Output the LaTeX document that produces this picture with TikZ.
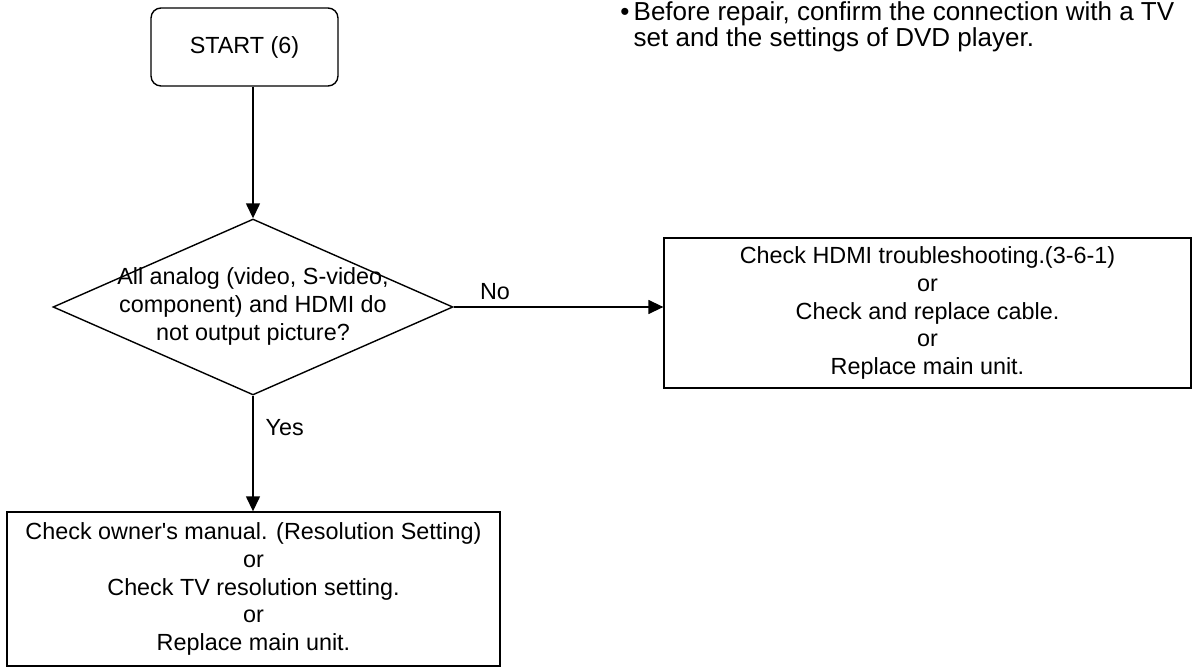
\documentclass[tikz,border=0pt]{standalone}
\usepackage{fontspec}
\setmainfont{Liberation Sans}[Ligatures=TeXOff]
\usetikzlibrary{shapes.geometric,arrows.meta}

\begin{document}
\begin{tikzpicture}[x=0.02cm, y=0.02cm, line width=0.8pt,
  >={Triangle[length=0.3cm,width=0.28cm]},
  every node/.style={font=\fontsize{13.3}{15.7}\selectfont},
  startbox/.style={rectangle, rounded corners=0.2cm, draw, minimum width=3.74cm, minimum height=1.56cm},
  decbox/.style={diamond, draw, aspect=2.27, inner sep=0pt, minimum width=8cm, minimum height=3.52cm},
  actbox/.style={rectangle, draw, align=center, inner sep=0pt}]
\useasboundingbox (0,0) rectangle (1194,667);
% Flow chart
\node[startbox] (start) at (244.5,620) {START (6)};
\node[decbox] (dec) at (253,360) {\makebox[0pt]{\begin{tabular}{@{}c@{}}All analog (video, S-video,\\component) and HDMI do\\not output picture?\end{tabular}}};
\node[actbox, minimum width=10.54cm, minimum height=3cm] (fix) at (927.5,354) {Check HDMI troubleshooting.(3-6-1)\\or\\Check and replace cable.\\or\\Replace main unit.};
\node[actbox, minimum width=9.86cm, minimum height=3.08cm] (manual) at (253.5,78) {Check owner's manual. (Resolution Setting)\\or\\Check TV resolution setting.\\or\\Replace main unit.};
\node (no) at (495,375) {No};
\node[anchor=west, inner sep=0pt] (yes) at (265,239) {Yes};
\node[anchor=base west, align=left, inner sep=0pt, font=\fontsize{14.8}{14.8}\selectfont] (note) at (633,620) {\llap{\textbullet\,}Before repair, confirm the connection with a TV\\set and the settings of DVD player.};

\draw[->] (start.south -| dec.north) -- (dec.north);
\draw[->] (dec.south) -- (dec.south |- manual.north);
\draw[->] (dec.east) -- (dec.east -| fix.west);
\end{tikzpicture}
\end{document}
